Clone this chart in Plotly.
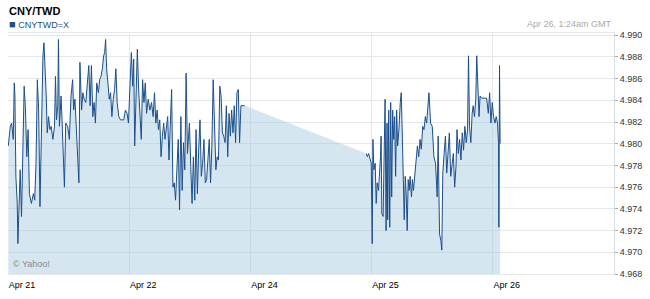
import plotly.graph_objects as go

# Hours on a compressed trading-time axis (0 = Apr 21, 24 = Apr 22, 48 = Apr 24, 72 = Apr 25, 96 = Apr 26)
hours_a = [0.06, 0.45, 0.72, 1.04, 1.24, 1.37, 1.56, 1.83, 1.96, 2.22, 2.41, 2.68, 3.00, 3.20, 3.46, 3.72,
           3.98, 4.24, 4.63, 5.03, 5.29, 5.55, 5.81, 6.07, 6.33, 6.59, 6.79, 6.92, 7.12, 7.31, 7.57, 7.77,
           8.03, 8.29, 8.55, 8.88, 9.21, 9.40, 9.60, 9.86, 9.99, 10.18, 10.51, 10.77,
           11.17, 11.43, 11.82, 12.15, 12.48, 12.80, 13.00, 13.26, 13.52, 13.78, 14.04, 14.24, 14.57, 14.83,
           15.09, 15.41, 15.74, 16.00, 16.26, 16.52, 16.79, 17.05, 17.31, 17.57, 17.90, 18.16, 18.42, 18.68,
           18.94, 19.14, 19.33, 19.53, 19.79, 20.05, 20.31, 20.57, 20.83, 21.10, 21.36, 21.62, 21.94, 22.27,
           22.60, 22.92, 23.25, 23.58,
           23.85, 24.17, 24.43, 24.70, 24.89, 25.09, 25.35, 25.61, 25.87, 26.13, 26.39, 26.65, 26.92, 27.18,
           27.44, 27.76, 28.09, 28.42, 28.74, 29.01, 29.27, 29.53, 29.79, 30.05, 30.31, 30.57, 30.83, 31.09,
           31.36, 31.62, 31.88, 32.14, 32.40, 32.66, 32.92, 33.18, 33.45, 33.71, 33.97, 34.23, 34.49, 34.75,
           35.01, 35.27, 35.54,
           35.93, 36.19, 36.45, 36.71, 36.98, 37.24, 37.50, 37.76, 38.02, 38.28, 38.54, 38.80, 39.07, 39.33,
           39.59, 39.85, 40.11, 40.37, 40.63, 40.89, 41.16, 41.42, 41.68, 41.94, 42.20, 42.46, 42.72, 42.98,
           43.24, 43.51, 43.77, 44.03, 44.29, 44.55, 44.81, 45.07, 45.33, 45.60, 45.86, 46.12, 46.90]
rates_a = [4.9798, 4.9816, 4.9819, 4.9804, 4.9856, 4.9844, 4.9770, 4.9745, 4.9708, 4.9757, 4.9776, 4.9733,
           4.9801, 4.9853, 4.9831, 4.9788, 4.9813, 4.9754, 4.9745, 4.9754, 4.9748, 4.9782, 4.9859, 4.9831,
           4.9742, 4.9813, 4.9844, 4.9881, 4.9893, 4.9875, 4.9844, 4.9810, 4.9825, 4.9813, 4.9816, 4.9804,
           4.9816, 4.9862, 4.9822, 4.9835, 4.9896, 4.9816, 4.9844, 4.9813,
           4.9760, 4.9819, 4.9816, 4.9804, 4.9844, 4.9859, 4.9831, 4.9841, 4.9813, 4.9798, 4.9764, 4.9875,
           4.9831, 4.9847, 4.9841, 4.9838, 4.9856, 4.9872, 4.9835, 4.9872, 4.9825, 4.9838, 4.9819, 4.9856,
           4.9847, 4.9859, 4.9862, 4.9869, 4.9881, 4.9884, 4.9896, 4.9869, 4.9856, 4.9841, 4.9847, 4.9825,
           4.9841, 4.9850, 4.9869, 4.9838, 4.9825, 4.9822, 4.9822, 4.9822, 4.9831, 4.9828,
           4.9819, 4.9853, 4.9884, 4.9853, 4.9878, 4.9798, 4.9856, 4.9887, 4.9850, 4.9822, 4.9804, 4.9859,
           4.9838, 4.9856, 4.9828, 4.9841, 4.9831, 4.9838, 4.9825, 4.9847, 4.9819, 4.9831, 4.9813, 4.9822,
           4.9788, 4.9807, 4.9819, 4.9804, 4.9813, 4.9825, 4.9785, 4.9813, 4.9850, 4.9760, 4.9764, 4.9748,
           4.9782, 4.9804, 4.9739, 4.9825, 4.9757, 4.9801, 4.9776, 4.9865, 4.9791,
           4.9819, 4.9779, 4.9745, 4.9788, 4.9748, 4.9813, 4.9754, 4.9795, 4.9822, 4.9770, 4.9782, 4.9804,
           4.9764, 4.9767, 4.9788, 4.9804, 4.9764, 4.9798, 4.9859, 4.9813, 4.9776, 4.9788, 4.9785, 4.9853,
           4.9844, 4.9810, 4.9807, 4.9801, 4.9835, 4.9788, 4.9828, 4.9807, 4.9831, 4.9810, 4.9835, 4.9801,
           4.9847, 4.9850, 4.9801, 4.9835, 4.9835]

hours_b = [70.95, 71.15, 71.41, 71.67, 71.93, 72.12, 72.26, 72.45, 72.71, 72.91, 73.10, 73.37, 73.56, 73.76,
           73.89, 74.02, 74.28, 74.48, 74.67, 74.87, 75.06, 75.19, 75.39, 75.59, 75.78, 75.98, 76.17, 76.37,
           76.57, 76.76, 76.96, 77.15, 77.41, 77.68, 77.87, 78.07, 78.26, 78.46, 78.66, 78.85, 79.05, 79.24,
           79.44, 79.63, 79.90, 80.09, 80.29, 80.55, 80.81, 81.07, 81.33, 81.59, 81.85, 82.12, 82.38, 82.64,
           82.90, 83.16, 83.36, 83.68, 84.01, 84.34, 84.66, 84.99, 85.18, 85.45, 85.71, 85.90, 86.10, 86.36,
           86.62, 86.88, 87.14, 87.40, 87.67, 87.93, 88.19, 88.45, 88.71, 88.91, 89.17, 89.43, 89.69, 89.95,
           90.21, 90.47, 90.74, 91.00, 91.19, 91.39, 91.65, 91.91, 92.11, 92.37, 92.63, 92.82, 93.02, 93.28,
           93.48, 93.80, 94.46, 94.78, 95.11, 95.37, 95.63, 95.89, 96.15, 96.42, 96.68, 96.94, 97.13, 97.20,
           97.33, 97.39, 97.45]
rates_b = [4.9791, 4.9788, 4.9791, 4.9785, 4.9782, 4.9708, 4.9804, 4.9776, 4.9782, 4.9745, 4.9764, 4.9757,
           4.9770, 4.9788, 4.9807, 4.9736, 4.9733, 4.9776, 4.9841, 4.9720, 4.9819, 4.9730, 4.9831, 4.9723,
           4.9838, 4.9751, 4.9831, 4.9804, 4.9825, 4.9770, 4.9831, 4.9798, 4.9813, 4.9838, 4.9847, 4.9810,
           4.9764, 4.9730, 4.9770, 4.9754, 4.9720, 4.9767, 4.9757, 4.9770, 4.9751, 4.9767, 4.9757, 4.9770,
           4.9779, 4.9798, 4.9788, 4.9804, 4.9795, 4.9816, 4.9813, 4.9825, 4.9819, 4.9831, 4.9847, 4.9819,
           4.9816, 4.9788, 4.9782, 4.9751, 4.9807, 4.9717, 4.9711, 4.9702, 4.9773, 4.9791, 4.9807, 4.9773,
           4.9794, 4.9810, 4.9770, 4.9779, 4.9791, 4.9760, 4.9779, 4.9813, 4.9791, 4.9804, 4.9785, 4.9810,
           4.9794, 4.9816, 4.9801, 4.9813, 4.9881, 4.9816, 4.9801, 4.9828, 4.9835, 4.9825, 4.9841, 4.9881,
           4.9853, 4.9825, 4.9844, 4.9842, 4.9842, 4.9842, 4.9828, 4.9847, 4.9819, 4.9838, 4.9825, 4.9819,
           4.9825, 4.9819, 4.9801, 4.9723, 4.9872, 4.9825, 4.9800]

tick_hours = [0, 24, 48, 72, 96]
tick_labels = ["Apr 21", "Apr 22", "Apr 24", "Apr 25", "Apr 26"]
y_ticks = [4.968, 4.970, 4.972, 4.974, 4.976, 4.978, 4.980, 4.982, 4.984, 4.986, 4.988, 4.990]

LINE = "#1b4f8a"
FONT = "Liberation Sans, Arial, sans-serif"

fig = go.Figure()
# filled area (continuous across the gap)
fig.add_trace(go.Scatter(
    x=hours_a + hours_b, y=rates_a + rates_b, mode="lines",
    line=dict(width=0), fill="tozeroy", fillcolor="rgba(158,195,222,0.42)",
    hoverinfo="skip", showlegend=False))
# line (broken across the weekend gap)
fig.add_trace(go.Scatter(
    x=hours_a + [None] + hours_b, y=rates_a + [None] + rates_b, mode="lines",
    line=dict(color=LINE, width=1), connectgaps=False, showlegend=False))

fig.update_layout(
    width=650, height=299,
    margin=dict(l=8, r=29, t=33, b=25),
    paper_bgcolor="white", plot_bgcolor="white",
    font=dict(family=FONT, size=9, color="#333333"),
    xaxis=dict(range=[0, 120], tickvals=tick_hours, ticktext=tick_labels,
               showgrid=True, gridcolor="#e4e8ec", gridwidth=1, zeroline=False,
               showline=True, linecolor="#e4e8ec", mirror=True,
               ticks="", ticklabelshift=14, ticklabelstandoff=2,
               tickfont=dict(family=FONT, size=9, color="#000000")),
    yaxis=dict(range=[4.968, 4.9902], side="right", tickvals=y_ticks, tickformat=".3f",
               showgrid=True, gridcolor="#e4e8ec", gridwidth=1, zeroline=False,
               showline=True, linecolor="#d8dde2", ticks="outside", ticklen=3, tickcolor="#aaaaaa",
               tickfont=dict(family=FONT, size=9, color="#333333")),
    annotations=[
        dict(text="<b>CNY/TWD</b>", x=0, y=1, xref="paper", yref="paper", xshift=-1, yshift=14,
             xanchor="left", yanchor="bottom", showarrow=False,
             font=dict(family=FONT, size=11, color="#000000")),
        dict(text="<span style='font-size:11px'>■</span> CNYTWD=X", x=0, y=1, xref="paper", yref="paper",
             xshift=-1, yshift=1,
             xanchor="left", yanchor="bottom", showarrow=False,
             font=dict(family=FONT, size=9, color=LINE)),
        dict(text="Apr 26, 1:24am GMT", x=1, y=1, xref="paper", yref="paper", yshift=2,
             xanchor="right", yanchor="bottom", showarrow=False,
             font=dict(family=FONT, size=9, color="#aaaaaa")),
        dict(text="© Yahoo!", x=0, y=0, xref="paper", yref="paper", xshift=3, yshift=3,
             xanchor="left", yanchor="bottom", showarrow=False,
             font=dict(family=FONT, size=9, color="#888888")),
    ],
)

fig.write_html("out.html")
